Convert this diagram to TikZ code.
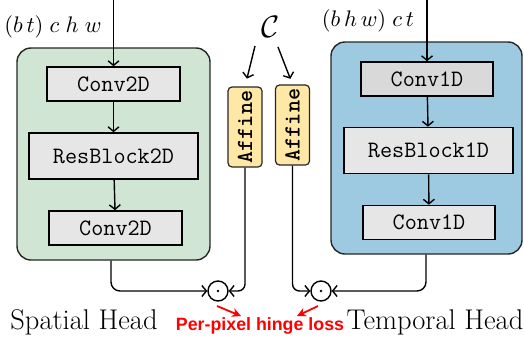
\documentclass[tikz,border=0pt]{standalone}
\usepackage{fontspec}
\usetikzlibrary{arrows.meta,calc}
\definecolor{gfill}{RGB}{208,229,212}
\definecolor{bfill}{RGB}{158,202,225}
\definecolor{boxgray}{RGB}{230,230,230}
\definecolor{boxgrayd}{RGB}{217,217,217}
\definecolor{affill}{RGB}{255,232,165}
\definecolor{lossred}{RGB}{255,0,0}
\newfontfamily\losssans{Liberation Sans}
\begin{document}
\begin{tikzpicture}[x=1pt,y=-1pt,
  head/.style={draw=black!85,line width=1.4pt,rounded corners=14pt},
  block/.style={draw=black,line width=1.6pt,minimum height=34pt,inner sep=0pt,
     font=\fontsize{23.5}{25}\selectfont\ttfamily},
  affbox/.style={draw=black!85,fill=affill,line width=1.2pt,rounded corners=4pt,
     minimum width=34pt,minimum height=80pt,inner sep=0pt},
  conn/.style={line width=1.4pt,-{Straight Barb[length=4.5pt,width=11pt]}},
  odot/.style={circle,draw,line width=1.4pt,minimum size=20pt,inner sep=0pt},
  lbl/.style={font=\fontsize{28.5}{30}\selectfont},
  redarr/.style={draw=lossred,line width=1.8pt,-{Stealth[length=9pt,width=9pt]}}]
\useasboundingbox (0,0) rectangle (524,343);
% head containers
\node[head,fill=gfill,minimum width=193pt,minimum height=212pt] (gbox) at (113.5,154) {};
\node[head,fill=bfill,minimum width=191pt,minimum height=212pt] (bbox) at (426.5,148) {};
% spatial blocks
\node[block,fill=boxgray,minimum width=133pt] (c2a) at (113.5,84) {Conv2D};
\node[block,fill=boxgray,minimum width=169pt,minimum height=46pt] (r2) at (113.5,156) {ResBlock2D};
\node[block,fill=boxgray,minimum width=133pt] (c2b) at (115.5,228) {Conv2D};
% temporal blocks
\node[block,fill=boxgrayd,minimum width=132pt] (c1a) at (427,79) {Conv1D};
\node[block,fill=boxgray,minimum width=169pt,minimum height=46pt] (r1) at (428.5,150.5) {ResBlock1D};
\node[block,fill=boxgray,minimum width=132pt] (c1b) at (429,222.5) {Conv1D};
% inputs
\coordinate (inL) at (113.5,0);
\coordinate (inR) at (427,0);
\node[scale=2.25] (labL) at (53,27) {$(b\,t)\;c\;h\;w$};
\node[scale=2.25] (labR) at (368,21) {$(b\,h\,w)\;c\,t$};
\draw[conn] (inL) -- (c2a.north);
\draw[conn] (inR) -- (c1a.north);
\draw[conn] (c2a) -- (r2);
\draw[conn] (r2) -- (c2b);
\draw[conn] (c1a) -- (r1);
\draw[conn] (r1) -- (c1b);
% condition
\node[scale=3.1] (C) at (271,27) {$\mathcal{C}$};
\node[affbox] (affL) at (245,127) {\rotatebox{90}{\fontsize{23}{25}\selectfont\ttfamily\bfseries Affine}};
\node[affbox] (affR) at (292.5,125) {\rotatebox{90}{\fontsize{23}{25}\selectfont\ttfamily\bfseries Affine}};
\coordinate (cL) at (255,46);
\coordinate (cR) at (278,47);
\draw[conn,shorten >=8pt] (cL) -- (affL.north);
\draw[conn,shorten >=6pt] (cR) -- (affR.north);
% product nodes
\node[odot] (pL) at (218,291) {};
\node[odot] (pR) at (321,291) {};
\fill (pL) circle (1.4pt);
\fill (pR) circle (1.4pt);
\draw[conn,rounded corners=9pt] (gbox.south -| 111,0) |- (pL.west);
\draw[conn,rounded corners=7pt] (affL.south) |- (pL.east);
\draw[conn,rounded corners=7pt] (affR.south) |- (pR.west);
\draw[conn,rounded corners=9pt] (bbox.south -| 426,0) |- (pR.east);
% labels
\node[lbl] (sh) at (84,322) {Spatial Head};
\node[lbl] (th) at (435,322) {Temporal Head};
\node[font=\fontsize{17.8}{19}\selectfont\losssans\bfseries,text=lossred] (loss) at (260,326) {Per-pixel hinge loss};
\coordinate (rl1) at (217,306);
\coordinate (rl2) at (241,316);
\coordinate (rr1) at (318,306);
\coordinate (rr2) at (297,316);
\draw[redarr] (rl1) -- (rl2);
\draw[redarr] (rr1) -- (rr2);
\end{tikzpicture}
\end{document}
